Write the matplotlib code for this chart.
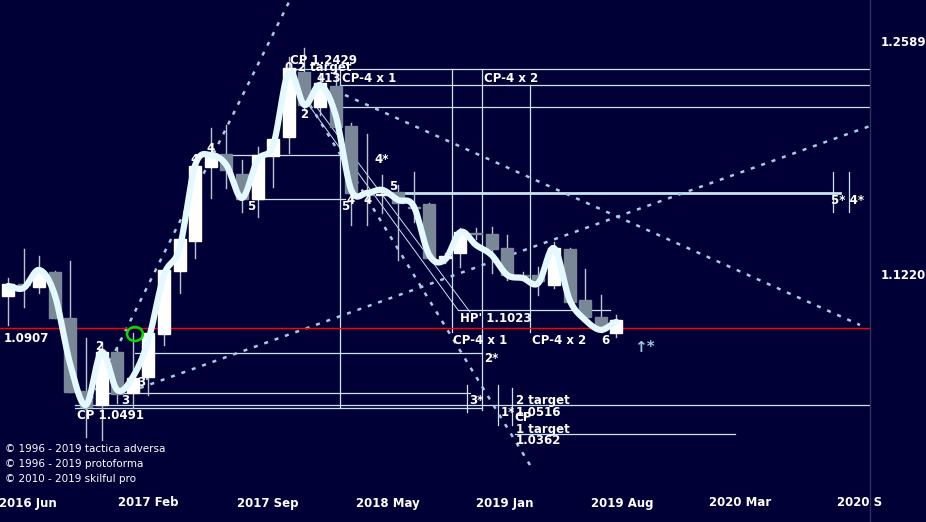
import numpy as np
import matplotlib
matplotlib.use("Agg")
import matplotlib.pyplot as plt
from matplotlib.patches import Rectangle, Ellipse

# monthly candles, index 0 = 2016 Apr
opens = [1.1096, 1.1167, 1.1149, 1.1238, 1.0966, 1.0536, 1.0453, 1.0766, 1.0524, 1.0618,
         1.0872, 1.1244, 1.1421, 1.1857, 1.1934, 1.1816, 1.1669, 1.1922, 1.2034, 1.2418,
         1.2211, 1.2335, 1.2099, 1.1704, 1.1692, 1.1710, 1.1621, 1.1639, 1.1320, 1.1350,
         1.1470, 1.1462, 1.1379, 1.1220, 1.1220, 1.1161, 1.1373, 1.1073, 1.0972, 1.0878]
highs = [1.1202, 1.1373, 1.1332, 1.1244, 1.1303, 1.0848, 1.0825, 1.0795, 1.0878, 1.0896,
         1.1250, 1.1433, 1.1910, 1.2088, 1.2105, 1.1899, 1.1975, 1.2034, 1.2506, 1.2559,
         1.2412, 1.2436, 1.2117, 1.2052, 1.1810, 1.1751, 1.1828, 1.1645, 1.1350, 1.1497,
         1.1500, 1.1503, 1.1456, 1.1240, 1.1267, 1.1415, 1.1380, 1.1256, 1.1102, 1.0984]
lows = [1.0925, 1.1031, 1.1114, 1.0966, 1.0530, 1.0264, 1.0246, 1.0465, 1.0435, 1.0512,
        1.0807, 1.1114, 1.1320, 1.1674, 1.1733, 1.1592, 1.1562, 1.1739, 1.1940, 1.2194,
        1.2164, 1.2076, 1.1515, 1.1515, 1.1586, 1.1309, 1.1533, 1.1320, 1.1290, 1.1267,
        1.1430, 1.1232, 1.1191, 1.1190, 1.1102, 1.1143, 1.1061, 1.0955, 1.0884, 1.0854]
closes = [1.1167, 1.1161, 1.1244, 1.0966, 1.0530, 1.0441, 1.0766, 1.0519, 1.0612, 1.0878,
          1.1250, 1.1433, 1.1863, 1.1934, 1.1840, 1.1669, 1.1928, 1.2023, 1.2441, 1.2223,
          1.2353, 1.2093, 1.1704, 1.1692, 1.1700, 1.1645, 1.1615, 1.1320, 1.1330, 1.1474,
          1.1460, 1.1373, 1.1220, 1.1215, 1.1185, 1.1379, 1.1061, 1.0972, 1.0896, 1.0955]
smooth = [1.1155, 1.1143, 1.1250, 1.1102, 1.0689, 1.0453, 1.0766, 1.0541, 1.0618, 1.0836,
          1.1220, 1.1379, 1.1869, 1.1928, 1.1869, 1.1674, 1.1899, 1.1987, 1.2418, 1.2223,
          1.2341, 1.2164, 1.1722, 1.1704, 1.1722, 1.1663, 1.1627, 1.1338, 1.1309, 1.1474,
          1.1397, 1.1338, 1.1220, 1.1202, 1.1173, 1.1379, 1.1073, 1.0955, 1.0896, 1.0943]
date_labels = ["2016 Jun", "2017 Feb", "2017 Sep", "2018 May", "2019 Jan", "2019 Aug", "2020 Mar", "2020 S"]
date_pos = [1.28, 8.97, 16.67, 24.36, 31.86, 39.4, 46.9, 54.6]
price_labels = [1.2589, 1.1220]

BG = "#010036"
LINE = "#c8e4f0"
W, H = 926, 522


# pixel helpers for the overlay drawing
def X(px):
    return (px - 8) / 15.6


def Y(py):
    return 1.2589 - (py - 43) / 1694.7


fig = plt.figure(figsize=(9.26, 5.22), dpi=100, facecolor=BG)
ax = fig.add_axes([0, 32 / H, 870 / W, 490 / H], facecolor=BG)
ax.set_xlim(X(0), X(870))
ax.set_ylim(Y(490), Y(0))
ax.set_xticks([])
ax.set_yticks([])
for s in ax.spines.values():
    s.set_visible(False)

# overlay: thin lines
hl = [(69, 290, 870), (85, 340, 870), (107, 330, 870), (155, 210, 345), (199, 255, 345),
      (310, 458, 610), (353, 135, 482), (393, 100, 470), (405, 75, 870), (408, 75, 482),
      (434, 515, 735)]
for y, x0, x1 in hl:
    ax.plot([X(x0), X(x1)], [Y(y), Y(y)], color=LINE, lw=0.9)
ax.plot([X(395), X(840)], [Y(193), Y(193)], color=LINE, lw=2)
vl = [(340, 69, 408), (452, 69, 332), (482, 69, 410), (530, 85, 332),
      (467, 385, 412), (498, 385, 425), (512, 388, 425), (833, 172, 212), (849, 172, 212)]
for x, y0, y1 in vl:
    ax.plot([X(x), X(x)], [Y(y0), Y(y1)], color=LINE, lw=0.9)
for (x0, y0, x1, y1) in [(305, 100, 458, 310), (315, 105, 470, 312)]:
    ax.plot([X(x0), X(x1)], [Y(y0), Y(y1)], color=LINE, lw=0.7)

# dashed trend lines
for (x0, y0, x1, y1) in [(86, 410, 290, 0), (140, 388, 870, 126), (345, 95, 860, 325), (310, 105, 530, 465)]:
    ax.plot([X(x0), X(x1)], [Y(y0), Y(y1)], color="#a8cce0", lw=1.8,
            ls=(0, (1.6, 2.8)), dash_capstyle="butt")

# red level
ax.axhline(1.0907, color="#ff0000", lw=1.0)

# candles
for i in range(len(opens)):
    o, h, l, c = opens[i], highs[i], lows[i], closes[i]
    up = c >= o
    col = "#ffffff" if up else "#7a8796"
    ax.plot([i, i], [l, h], color="#b8c4cc", lw=1, zorder=3)
    ax.add_patch(Rectangle((i - 0.38, min(o, c)), 0.76, max(abs(c - o), 0.0006),
                           facecolor=col, edgecolor=col, zorder=4))

# smooth line (Catmull-Rom for drawing)
pts = np.array(smooth)
xs, ys = [], []
p = np.concatenate([[pts[0]], pts, [pts[-1]]])
for k in range(len(pts) - 1):
    t = np.linspace(0, 1, 12, endpoint=False)
    p0, p1, p2, p3 = p[k], p[k + 1], p[k + 2], p[k + 3]
    ys.extend(0.5 * ((2 * p1) + (-p0 + p2) * t + (2 * p0 - 5 * p1 + 4 * p2 - p3) * t ** 2
                     + (-p0 + 3 * p1 - 3 * p2 + p3) * t ** 3))
    xs.extend(k + t)
xs.append(len(pts) - 1)
ys.append(pts[-1])
ax.plot(xs, ys, color="#e4f8ff", lw=4.5, zorder=5, solid_capstyle="round")

# green circle
ax.add_patch(Ellipse((X(135), Y(334)), 16 / 15.6, 14 / 1694.7, fill=False,
                     edgecolor="#00e000", lw=1.8, zorder=6))

labels = [("CP 1.2429", 290, 61), ("0.2 target", 285, 67), ("413", 316, 78), ("CP-4 x 1", 342, 78),
          ("CP-4 x 2", 484, 78), ("2", 300, 115), ("4", 206, 148), ("4'", 190, 160), ("5", 247, 207),
          ("4*", 374, 160), ("5", 389, 186), ("5", 341, 206), ("4", 346, 200), ("4", 363, 200),
          ("HP' 1.1023", 460, 318), ("CP-4 x 1", 453, 341), ("CP-4 x 2", 532, 341), ("6", 601, 341),
          ("2*", 484, 359), ("3*", 469, 401), ("1*", 501, 412), ("2 target", 516, 401),
          ("1.0516", 516, 412), ("CP", 514, 418), ("1 target", 516, 430), ("1.0362", 516, 441),
          ("2", 95, 346), ("3", 121, 400), ("3'", 137, 383), ("CP 1.0491", 77, 416),
          ("1.0907", 4, 339), ("5* 4*", 831, 200)]
for txt, x, y in labels:
    ax.text(X(x), Y(y), txt, color="white", fontsize=8.5, fontweight="bold",
            va="center", ha="left", zorder=7)
ax.text(X(634), Y(347), "↑*", color="#9cc8dc", fontsize=11, fontweight="bold", va="center", zorder=7)

for i, t in enumerate(["© 1996 - 2019 tactica adversa", "© 1996 - 2019 protoforma",
                       "© 2010 - 2019 skilful pro"]):
    ax.text(X(5), Y(449 + 15 * i), t, color="white", fontsize=7.5, va="center", zorder=7)

# x labels and right price labels
for lab, pos in zip(date_labels, date_pos):
    fig.text((8 + pos * 15.6) / W, 1 - 503 / H, lab, color="white", fontsize=8.5,
             fontweight="bold", ha="center", va="center")
for pr in price_labels:
    ax.text(1.012, (pr - Y(490)) / (Y(0) - Y(490)), f"{pr:.4f}", transform=ax.transAxes,
            color="white", fontsize=8.5, fontweight="bold", va="center", ha="left")
fig.add_artist(plt.Line2D([870 / W, 870 / W], [0, 1], color="#303060", lw=1))

fig.savefig("out.png", dpi=100, facecolor=BG)
